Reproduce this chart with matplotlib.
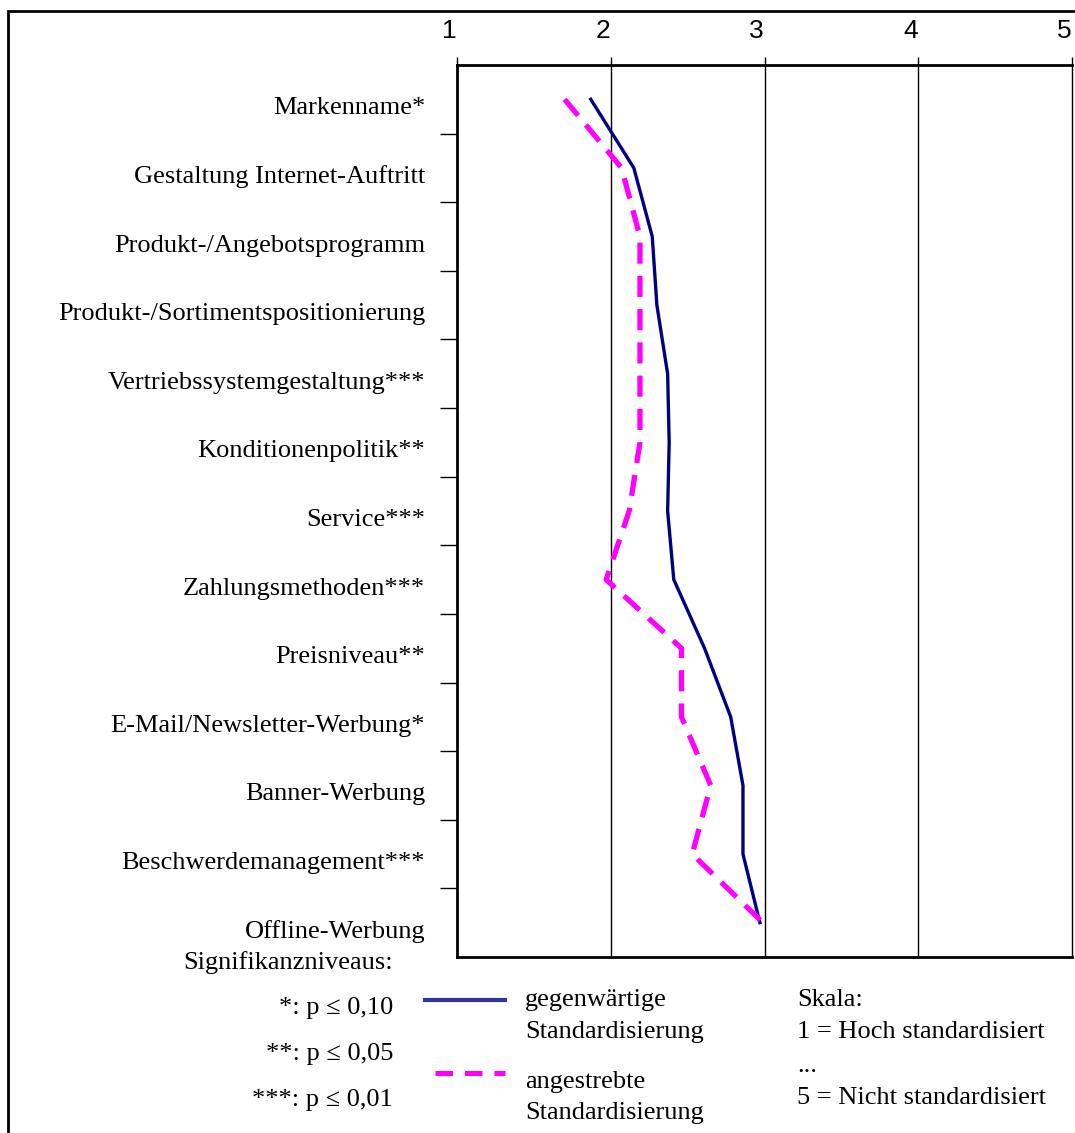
import numpy as np
import matplotlib.pyplot as plt
from matplotlib.lines import Line2D
from matplotlib.patches import Rectangle
import matplotlib.transforms as mtransforms

# data
kategorien = ['Markenname*', 'Gestaltung Internet-Auftritt', 'Produkt-/Angebotsprogramm',
              'Produkt-/Sortimentspositionierung', 'Vertriebssystemgestaltung***',
              'Konditionenpolitik**', 'Service***', 'Zahlungsmethoden***', 'Preisniveau**',
              'E-Mail/Newsletter-Werbung*', 'Banner-Werbung', 'Beschwerdemanagement***',
              'Offline-Werbung']
gegenwaertig = [1.87, 2.15, 2.27, 2.30, 2.37, 2.38, 2.37, 2.41, 2.61, 2.78, 2.86, 2.86, 2.97]
angestrebt = [1.70, 2.07, 2.19, 2.19, 2.19, 2.19, 2.12, 1.97, 2.46, 2.46, 2.65, 2.53, 2.99]
skala = [1, 2, 3, 4, 5]

W, H = 1075, 1133
serif = 'Liberation Serif'
sans = 'Liberation Sans'
fs = 19

fig = plt.figure(figsize=(W / 100, H / 100), dpi=100)
ax = fig.add_axes([457 / W, 1 - 957 / H, 615 / W, 892 / H])

y = np.arange(len(kategorien))
ax.plot(gegenwaertig, y, color='#000080', lw=2.4, zorder=3)
ax.plot(angestrebt, y, color='#FF00FF', lw=3.8, dashes=(4, 2.3), zorder=3)

ax.set_xlim(1, 5)
ax.set_ylim(len(kategorien) - 0.5, -0.5)

for v in skala[1:-1]:
    ax.axvline(v, color='black', lw=1, zorder=1)

for s in ['top', 'bottom', 'left']:
    ax.spines[s].set_linewidth(2)
ax.spines['right'].set_linewidth(1)

# top scale
ax.xaxis.tick_top()
ax.set_xticks(skala)
ax.tick_params(axis='x', direction='out', length=6, width=1, labeltop=False, labelbottom=False)
tr_top = mtransforms.blended_transform_factory(ax.transData, ax.transAxes)
for v in skala:
    ax.text(v, 1.0, str(v), transform=tr_top + mtransforms.ScaledTranslation(-0.08, 0.34, fig.dpi_scale_trans),
            ha='center', va='center', fontsize=19, family=sans)

# left side: boundary ticks + labels
ax.set_yticks(np.arange(len(kategorien) - 1) + 0.5)
ax.tick_params(axis='y', direction='out', length=12, width=1, labelleft=False)
tr_left = mtransforms.blended_transform_factory(ax.transAxes, ax.transData)
for i, k in enumerate(kategorien):
    ax.text(0, i, k, transform=tr_left + mtransforms.ScaledTranslation(-0.32, -0.09, fig.dpi_scale_trans),
            ha='right', va='center', fontsize=fs, family=serif)

# outer frame
fig.patches.append(Rectangle((8 / W, -0.1), 1.2, 1 - 11 / H + 0.1, transform=fig.transFigure,
                             fill=False, ec='black', lw=2))

def ft(x, yy, s, ha='left'):
    fig.text(x / W, 1 - yy / H, s, ha=ha, va='center', fontsize=fs, family=serif)

# Signifikanzniveaus
ft(393, 963, 'Signifikanzniveaus:', 'right')
ft(393, 1008, '*: p ≤ 0,10', 'right')
ft(393, 1054, '**: p ≤ 0,05', 'right')
ft(393, 1100, '***: p ≤ 0,01', 'right')

# legend
fig.lines.append(Line2D([425 / W, 505 / W], [1 - 1000 / H] * 2, transform=fig.transFigure,
                        color='#333399', lw=3))
fig.lines.append(Line2D([435 / W, 505 / W], [1 - 1073 / H] * 2, transform=fig.transFigure,
                        color='#FF00FF', lw=3.6, dashes=(3.5, 2.4)))
ft(525, 1000, 'gegenwärtige')
ft(525, 1032, 'Standardisierung')
ft(525, 1082, 'angestrebte')
ft(525, 1113, 'Standardisierung')

# Skala
ft(797, 1000, 'Skala:')
ft(797, 1032, '1 = Hoch standardisiert')
ft(797, 1066, '...')
ft(797, 1098, '5 = Nicht standardisiert')

fig.savefig('out.png', dpi=100)
